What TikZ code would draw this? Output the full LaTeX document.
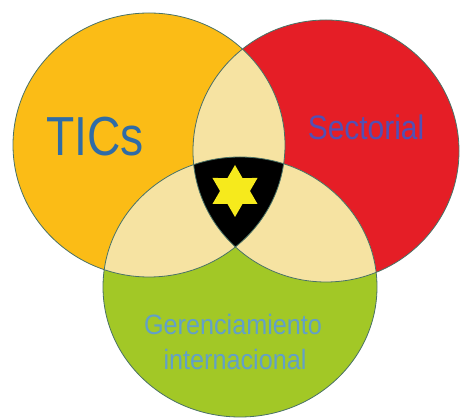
\documentclass[tikz,border=0pt]{standalone}
\usepackage{fontspec}
\setmainfont{Liberation Sans}
\usepackage{graphicx}
\definecolor{orangec}{HTML}{FBBC16}
\definecolor{redc}{HTML}{E51E26}
\definecolor{greenc}{HTML}{A2C826}
\definecolor{beigec}{HTML}{F6E3A2}
\definecolor{starc}{HTML}{F6EA1C}
\definecolor{linec}{HTML}{4A7266}
\definecolor{ticsc}{HTML}{2F6CA6}
\definecolor{sectc}{HTML}{5250B4}
\definecolor{gerc}{HTML}{62A0C8}
\begin{document}
\begin{tikzpicture}[x=1pt,y=-1pt,
  outline/.style={draw=linec,line width=0.8pt},
  lbl/.style={inner sep=0pt,anchor=base}]
\useasboundingbox[fill=white] (0,0) rectangle (461,419);
\def\orangeE{(149,145) ellipse [x radius=136pt, y radius=132pt]}
\def\redE{(326,151) ellipse [x radius=133pt, y radius=131pt]}
\def\greenE{(240,287) ellipse [x radius=137pt, y radius=130pt]}
% base fills
\fill[orangec] \orangeE;
\fill[redc] \redE;
\fill[greenc] \greenE;
% pairwise overlaps
\begin{scope}
  \clip \orangeE;
  \fill[beigec] \redE;
  \fill[beigec] \greenE;
\end{scope}
\begin{scope}
  \clip \redE;
  \fill[beigec] \greenE;
\end{scope}
% triple overlap
\begin{scope}
  \clip \orangeE;
  \clip \redE;
  \fill[black] \greenE;
\end{scope}
% outlines
\draw[outline] \orangeE;
\draw[outline] \redE;
\draw[outline] \greenE;
% star
\fill[starc] (235,191) +(90:26) -- +(120:15) -- +(150:26) -- +(180:15) -- +(210:26) -- +(240:15)
  -- +(270:26) -- +(300:15) -- +(330:26) -- +(0:15) -- +(30:26) -- +(60:15) -- cycle;
% labels
\node[lbl,text=ticsc,font=\fontsize{55}{60}\selectfont] (tics) at (95,156) {\scalebox{0.84}[1]{TICs}};
\node[lbl,text=sectc,font=\fontsize{34}{40}\selectfont] (sect) at (366,140) {\scalebox{0.88}[1]{Sectorial}};
\node[lbl,text=gerc,font=\fontsize{28}{34}\selectfont] (ger1) at (233,335) {\scalebox{0.9}[1]{Gerenciamiento}};
\node[lbl,text=gerc,font=\fontsize{28}{34}\selectfont] (ger2) at (235,370) {\scalebox{0.9}[1]{internacional}};
\end{tikzpicture}
\end{document}
